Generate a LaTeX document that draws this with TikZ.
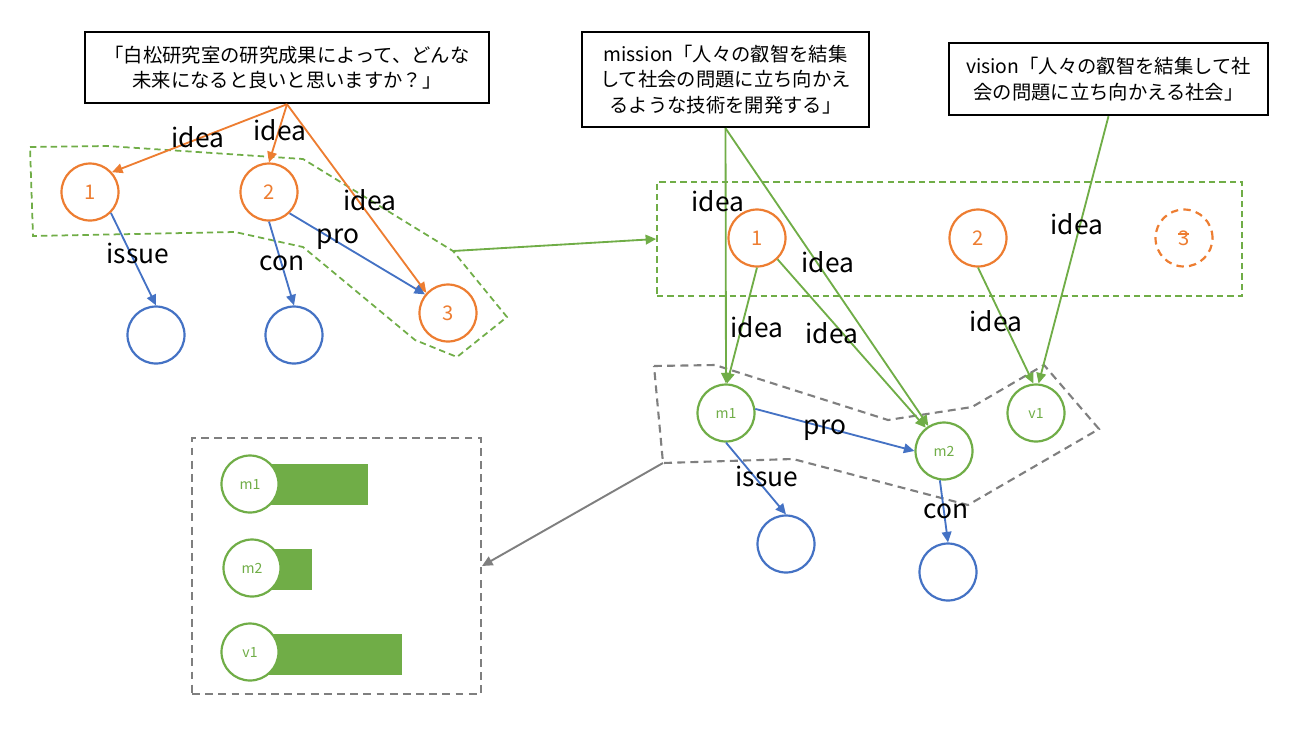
\documentclass[tikz,border=0pt]{standalone}
\usepackage{fontspec}
\setmainfont{Noto Sans CJK JP}
\usetikzlibrary{arrows.meta}
\definecolor{cOr}{HTML}{ED7D31}
\definecolor{cBl}{HTML}{4472C4}
\definecolor{cGr}{HTML}{70AD47}
\definecolor{cGy}{HTML}{7F7F7F}
\begin{document}
\begin{tikzpicture}[x=0.02cm,y=-0.02cm,
  qbox/.style={draw=black,line width=1.4pt,inner sep=0pt,align=center,font=\fontsize{11}{14.5}\selectfont},
  ocirc/.style={circle,draw=cOr,line width=1.25pt,minimum size=1.14cm,inner sep=0pt,text=cOr,font=\fontsize{11.5}{12}\selectfont},
  bcirc/.style={circle,draw=cBl,line width=1.25pt,minimum size=1.14cm,inner sep=0pt},
  gcirc/.style={circle,draw=cGr,line width=1.25pt,fill=white,minimum size=1.14cm,inner sep=0pt,text=cGr,font=\fontsize{8}{9}\selectfont},
  lab/.style={inner sep=0pt,font=\fontsize{15}{16}\selectfont},
  arr/.style={line width=1.05pt,-{Triangle[length=6pt,width=5.5pt]}},
  gdash/.style={draw=cGr,line width=1pt,dash pattern=on 3.6pt off 2.3pt},
  ydash/.style={draw=cGy,line width=1.2pt,dash pattern=on 4.5pt off 3pt}
]
\useasboundingbox (0,0) rectangle (1312,731);

% question boxes
\node[qbox,minimum width=8.08cm,minimum height=1.42cm] (q1) at (287,67.5)
  {「白松研究室の研究成果によって、どんな\\未来になると良いと思いますか？」};
\node[qbox,minimum width=5.74cm,minimum height=1.9cm] (q2) at (725.5,79.5)
  {mission「人々の叡智を結集\\して社会の問題に立ち向かえ\\るような技術を開発する」};
\node[qbox,minimum width=6.38cm,minimum height=1.44cm] (q3) at (1108.5,79)
  {vision「人々の叡智を結集して社\\会の問題に立ち向かえる社会」};

% left group
\draw[gdash] (30,147) -- (107,146) -- (303,159) -- (453,251) coordinate (pv) -- (507,317) -- (457,357) -- (415,340) -- (303,247) -- (235,232) -- (33,236) -- cycle;

\node[ocirc] (o1) at (90,192) {1};
\node[ocirc] (o2) at (269,192) {2};
\node[ocirc] (o3) at (448,313) {3};
\node[bcirc] (i1) at (156,335) {};
\node[bcirc] (c1) at (294,335) {};

\draw[arr,cOr] (q1.south) -- (o1.42);
\draw[arr,cOr] (q1.south) -- (o2.north);
\draw[arr,cOr] (q1.south) -- (o3.137);
\draw[arr,cBl] (o1.-45) -- (i1.north);
\draw[arr,cBl] (o2.south) -- (c1.north);
\draw[arr,cBl] (o2.-46) -- (o3.141);

\node[lab] (l1) at (198,137) {idea};
\node[lab] (l2) at (280,130) {idea};
\node[lab] (l3) at (370,200) {idea};
\node[lab] (l4) at (138,253) {issue};
\node[lab] (l5) at (282,263) {con};
\node[lab] (l6) at (338,239) {pro};

% right group
\node[gdash,minimum width=11.7cm,minimum height=2.28cm,inner sep=0pt] (rr) at (949.5,239) {};
\draw[arr,cGr] (pv) -- (rr.west);

\node[ocirc] (r1) at (757,238) {1};
\node[ocirc] (r2) at (978,238) {2};
\node[ocirc,dash pattern=on 4.2pt off 3pt] (r3) at (1184,238) {3};
\draw[cOr,line width=0.6pt] (r3.center) ++(-6,-4) -- ++(11,0);

\draw[ydash] (654,366) -- (715,365) -- (888,420) -- (972,407) -- (1044,365) -- (1099,429) -- (968,505) -- (793,459) -- (663,463) coordinate (gv) -- cycle;

\node[gcirc] (m1) at (726,413) {m1};
\node[gcirc] (m2) at (944,451) {m2};
\node[gcirc] (v1) at (1036,413) {v1};
\node[bcirc] (i2) at (786,544) {};
\node[bcirc] (c2) at (948,572) {};

\draw[arr,cGr] (q2.south) -- (m1.north);
\draw[arr,cGr] (q2.south) -- (m2.122);
\draw[arr,cGr] (r1.south) -- (m1.88);
\draw[arr,cGr] (r1.-46) -- (m2.128);
\draw[arr,cGr] (r2.south) -- (v1.95);
\draw[arr,cGr] (q3.south) -- (v1.85);

\draw[arr,cBl] (m1.8) -- (m2.west);
\draw[arr,cBl] (m1.south) -- (i2.north);
\draw[arr,cBl] (m2.-98) -- (c2.north);

\node[lab] (l7) at (718,201) {idea};
\node[lab] (l8) at (828,262) {idea};
\node[lab] (l9) at (757,327) {idea};
\node[lab] (l10) at (832,333) {idea};
\node[lab] (l11) at (996,321) {idea};
\node[lab] (l12) at (1077,224) {idea};
\node[lab] (l13) at (825,430) {pro};
\node[lab] (l14) at (767,476) {issue};
\node[lab] (l15) at (946,511) {con};

% bar chart box
\node[ydash,minimum width=5.78cm,minimum height=5.12cm,inner sep=0pt] (gb) at (336.5,566) {};
\draw[arr,cGy,line width=1.1pt] (gv) -- (gb.east);

\fill[cGr] (262,464) rectangle (368,505);
\fill[cGr] (262,549) rectangle (312,590);
\fill[cGr] (262,634) rectangle (402,675);
\node[gcirc] (bm1) at (250,484) {m1};
\node[gcirc] (bm2) at (252,568) {m2};
\node[gcirc] (bv1) at (250,652) {v1};
\end{tikzpicture}
\end{document}
